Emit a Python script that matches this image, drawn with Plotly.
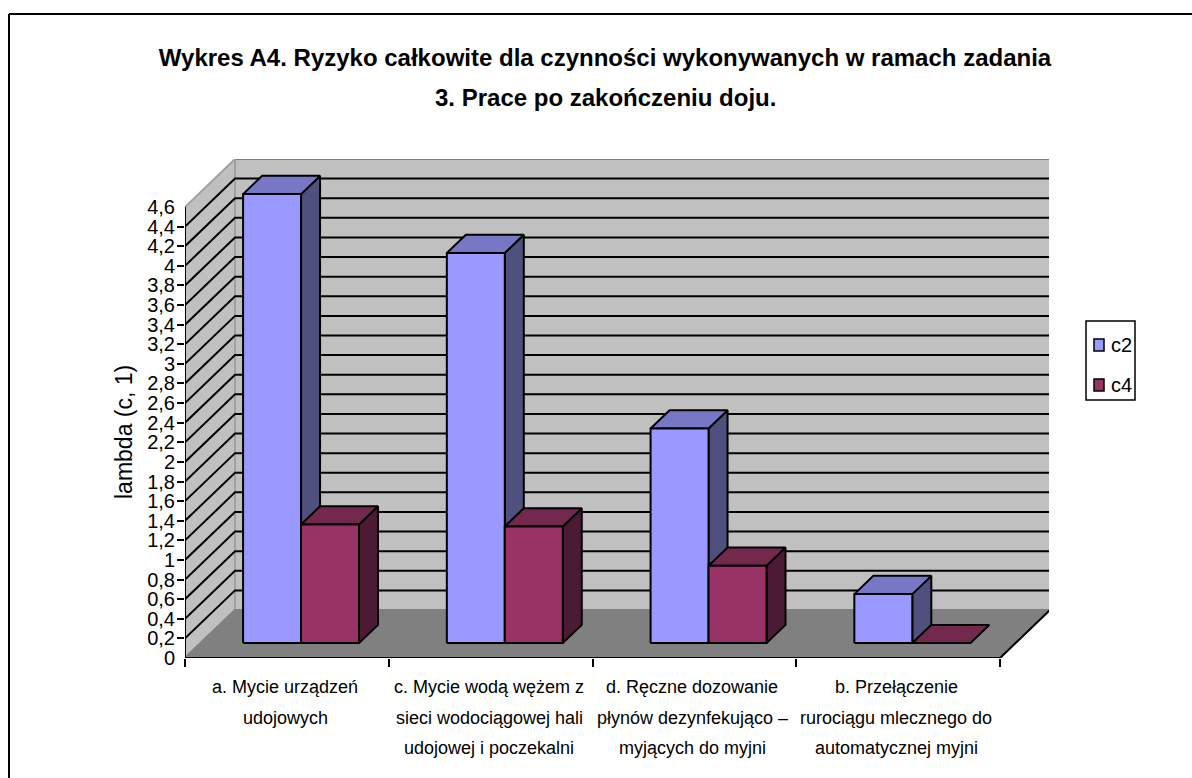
import plotly.graph_objects as go

W, H = 1192, 778
L, R, T, B = 185, 1049, 159, 658          # plot area in page pixels
CAT_PX = 203.75
VAL_PX = 98.04

categories = [
    ["a. Mycie urządzeń", "udojowych"],
    ["c. Mycie wodą wężem z", "sieci wodociągowej hali", "udojowej i poczekalni"],
    ["d. Ręczne dozowanie", "płynów dezynfekująco –", "myjących do myjni"],
    ["b. Przełączenie", "rurociągu mlecznego do", "automatycznej myjni"],
]
c2 = [4.58, 3.98, 2.19, 0.50]
c4 = [1.21, 1.19, 0.79, 0.0]
series_names = ["c2", "c4"]
tick_vals = [round(i * 0.2, 1) for i in range(24)]
tick_text = [f"{v:g}".replace(".", ",") for v in tick_vals]
y_title = "lambda (c, 1)"
title_lines = ["Wykres A4. Ryzyko całkowite dla czynności wykonywanych w ramach zadania",
               "3. Prace po zakończeniu doju."]

DX = 50 / CAT_PX      # full chart depth in axis units
DY = 48 / VAL_PX
YMAX = 4.6
GAP = 0.209           # bar start inside the category
BW = 0.2845           # bar width
Z0, Z1 = 0.31, 0.69   # bar depth span


def proj(x, y, z=0.0):
    return x + z * DX, y + z * DY


def poly(pts):
    xs, ys = zip(*pts)
    return list(xs) + [xs[0]], list(ys) + [ys[0]]


def faces(x0, x1, v):
    front = [proj(x0, 0, Z0), proj(x1, 0, Z0), proj(x1, v, Z0), proj(x0, v, Z0)]
    top = [proj(x0, v, Z0), proj(x1, v, Z0), proj(x1, v, Z1), proj(x0, v, Z1)]
    side = [proj(x1, 0, Z0), proj(x1, 0, Z1), proj(x1, v, Z1), proj(x1, v, Z0)]
    return front, top, side


def merged(polys):
    xs, ys = [], []
    for p in polys:
        a, b = poly(p)
        xs += a + [None]
        ys += b + [None]
    return xs, ys


fig = go.Figure()


def area(pts, fill, line="#808080", width=2):
    x, y = poly(pts)
    fig.add_trace(go.Scatter(x=x, y=y, mode="lines", fill="toself", fillcolor=fill,
                             line=dict(color=line, width=width), hoverinfo="skip",
                             showlegend=False, cliponaxis=False))


# walls and floor
area([proj(0, 0, 1), proj(4, 0, 1), proj(4, YMAX, 1), proj(0, YMAX, 1)], "#C0C0C0")
area([proj(0, 0, 0), proj(0, 0, 1), proj(0, YMAX, 1), proj(0, YMAX, 0)], "#C0C0C0", "#A0A0A0")
area([proj(0, 0, 0), proj(4, 0, 0), proj(4, 0, 1), proj(0, 0, 1)], "#808080", "#808080")

# gridlines on both walls
gx, gy = [], []
for v in tick_vals[1:-1]:
    for p in (proj(0, v, 0), proj(0, v, 1), proj(4, v, 1)):
        gx.append(p[0])
        gy.append(p[1])
    gx.append(None)
    gy.append(None)
fig.add_trace(go.Scatter(x=gx, y=gy, mode="lines", line=dict(color="#000000", width=2),
                         hoverinfo="skip", showlegend=False, cliponaxis=False))

# value axis, category axis and floor edge
fig.add_trace(go.Scatter(x=[0, 0], y=[0, YMAX], mode="lines", line=dict(color="#000000", width=2),
                         hoverinfo="skip", showlegend=False, cliponaxis=False))
ex = [0, 4, proj(4, 0, 1)[0]]
ey = [0, 0, proj(4, 0, 1)[1]]
fig.add_trace(go.Scatter(x=ex, y=ey, mode="lines", line=dict(color="#000000", width=2),
                         hoverinfo="skip", showlegend=False, cliponaxis=False))

colors = [("#9999FF", "#7777C6", "#50507F"), ("#993366", "#73284D", "#4D1A33")]
for s, (values, name) in enumerate(zip([c2, c4], series_names)):
    fr, tp, sd = [], [], []
    for i, v in enumerate(values):
        f, t, d = faces(i + GAP + s * BW, i + GAP + (s + 1) * BW, v)
        fr.append(f)
        tp.append(t)
        sd.append(d)
    for polys, col, nm in ((sd, colors[s][2], name + " side"),
                           (tp, colors[s][1], name + " top"),
                           (fr, colors[s][0], name)):
        x, y = merged(polys)
        fig.add_trace(go.Scatter(x=x, y=y, mode="lines", name=nm, fill="toself", fillcolor=col,
                                 line=dict(color="#000000", width=2), showlegend=False,
                                 cliponaxis=False, hoverinfo="skip"))


def px(v):
    return (v - L) / (R - L)


def py(v):
    return (B - v) / (B - T)


FONT = "Liberation Sans"
shapes = [
    dict(type="rect", xref="paper", yref="paper", x0=px(1086), x1=px(1135), y0=py(321), y1=py(400),
         line=dict(color="#000000", width=1.5), fillcolor="#FFFFFF"),
    # chart frame: top edge and left edge
    dict(type="line", xref="paper", yref="paper", x0=px(9), x1=px(1192), y0=py(14), y1=py(14),
         line=dict(color="#000000", width=2)),
    dict(type="line", xref="paper", yref="paper", x0=px(9), x1=px(9), y0=py(14), y1=py(778),
         line=dict(color="#000000", width=2)),
]
annotations = []


def label(x, y, text, size, **kw):
    annotations.append(dict(xref="paper", yref="paper", x=px(x), y=py(y), text=text, showarrow=False,
                            font=dict(family=FONT, size=size, color="#000000"),
                            xanchor=kw.pop("xanchor", "center"), yanchor="middle", **kw))


for name, ly, col in zip(series_names, (345, 385), ("#9999FF", "#993366")):
    shapes.append(dict(type="rect", xref="paper", yref="paper", x0=px(1094), x1=px(1104),
                       y0=py(ly - 6), y1=py(ly + 6), fillcolor=col,
                       line=dict(color="#000000", width=1.5)))
    label(1109, ly, name, 20, xanchor="left")

label(605, 97, "<b>" + title_lines[1] + "</b>", 24)
label(124, 432, y_title, 23, textangle=-90)

cat_centers = [285, 489, 692, 896]
for cx, lines in zip(cat_centers, categories):
    for k, line in enumerate(lines):
        label(cx, 687 + 30.5 * k, line, 18)

fig.update_layout(
    width=W, height=H, autosize=False,
    margin=dict(l=L, r=W - R, t=T, b=H - B, pad=0),
    paper_bgcolor="#FFFFFF", plot_bgcolor="rgba(0,0,0,0)", showlegend=False,
    title=dict(text="<b>" + title_lines[0] + "</b>", x=605 / W, xanchor="center",
               y=1 - 58 / H, yanchor="middle", yref="container",
               font=dict(family=FONT, size=24, color="#000000")),
    xaxis=dict(range=[0, (R - L) / CAT_PX], tickvals=[0, 1, 2, 3, 4], showticklabels=False,
               ticks="outside", ticklen=8, tickwidth=2, tickcolor="#000000",
               showgrid=False, zeroline=False, showline=False, fixedrange=True),
    yaxis=dict(range=[0, (B - T) / VAL_PX], tickvals=tick_vals, ticktext=tick_text,
               ticks="outside", ticklen=5, tickwidth=0, tickcolor="rgba(0,0,0,0)",
               minor=dict(tickvals=tick_vals[1:-1], ticks="outside", ticklen=7, tickwidth=2,
                          tickcolor="#000000"),
               tickfont=dict(family=FONT, size=20, color="#000000"),
               showgrid=False, zeroline=False, showline=False, fixedrange=True),
    shapes=shapes, annotations=annotations,
)

fig.write_html("out.html", config={"displayModeBar": False},
               post_script="document.body.style.margin='0';document.documentElement.style.overflow='hidden';")
